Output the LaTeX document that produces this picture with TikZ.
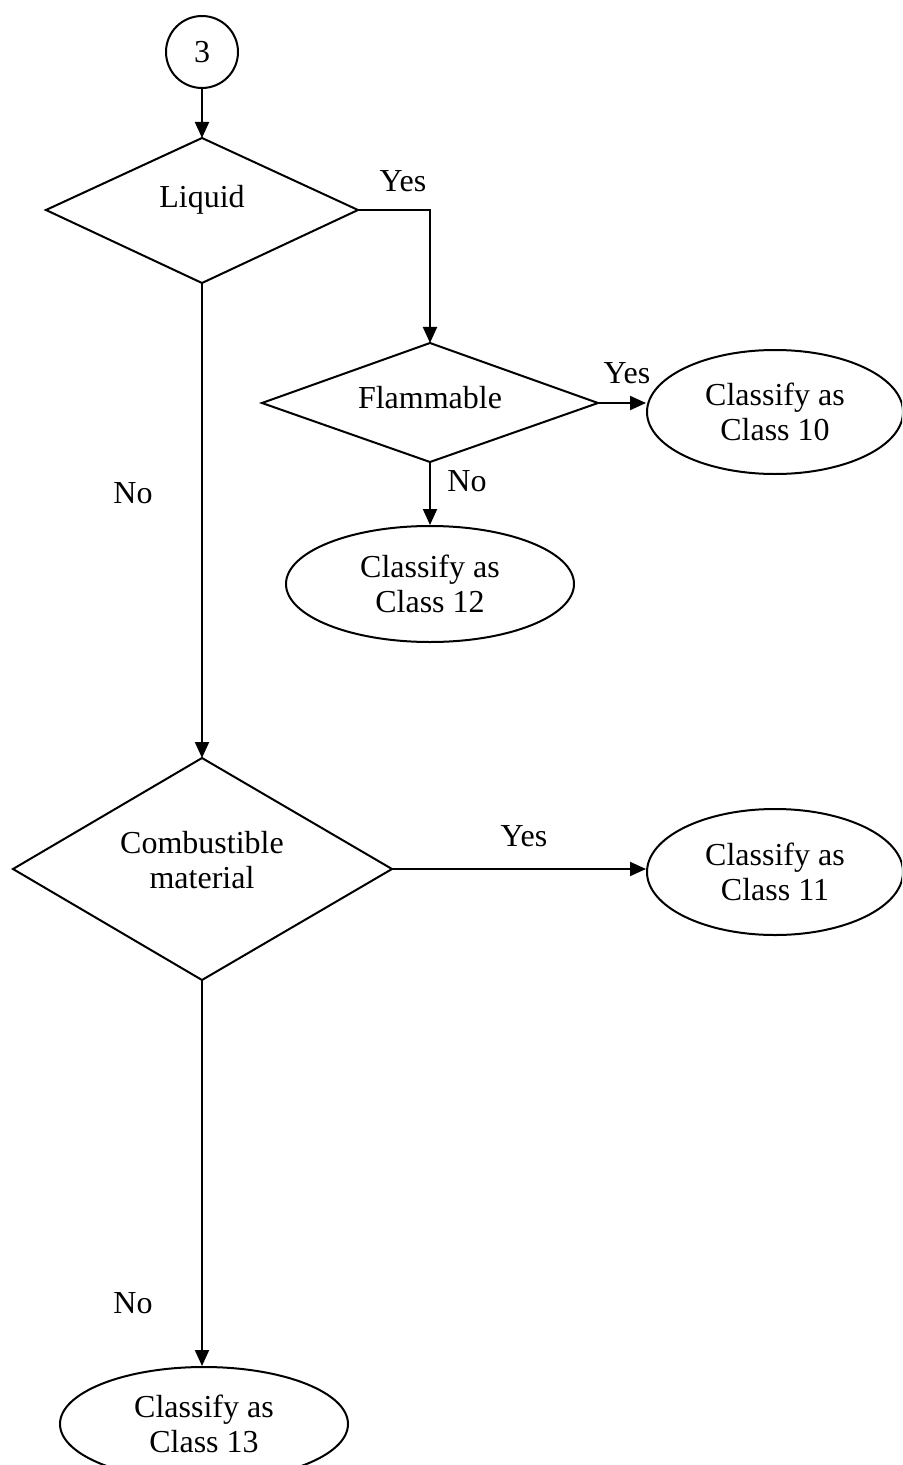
\documentclass[tikz,border=0pt]{standalone}
\usepackage{fontspec}
\setmainfont{Liberation Serif}
\usetikzlibrary{shapes.geometric,arrows.meta}
\begin{document}
\begin{tikzpicture}[x=0.5pt,y=-0.5pt,
  line width=1pt,
  every node/.style={font=\fontsize{16pt}{17.5pt}\selectfont},
  txt/.style={inner sep=0pt,align=center},
  oval/.style={draw,ellipse,inner sep=0pt,align=center},
  arr/.style={-{Triangle[length=8pt,width=7pt]}}]
\useasboundingbox (0,0) rectangle (902,1465);
\clip (0,0) rectangle (902,1465);
% start circle
\node[draw,circle,minimum size=36pt,inner sep=0pt] (start) at (202,52) {3};
% Liquid diamond
\coordinate (lt) at (202,138); \coordinate (lr) at (358,210);
\coordinate (lb) at (202,283); \coordinate (ll) at (46,210);
\draw (lt) -- (lr) -- (lb) -- (ll) -- cycle;
\node[txt] (liquid) at (202,200) {Liquid};
% Flammable diamond
\coordinate (ft) at (430,343); \coordinate (fr) at (598,403);
\coordinate (fb) at (430,462); \coordinate (fl) at (262,403);
\draw (ft) -- (fr) -- (fb) -- (fl) -- cycle;
\node[txt] (flam) at (430,398) {Flammable};
% Combustible diamond
\coordinate (ct) at (202,758); \coordinate (cr) at (392,869);
\coordinate (cb) at (202,980); \coordinate (cl) at (13,869);
\draw (ct) -- (cr) -- (cb) -- (cl) -- cycle;
\node[txt] (comb) at (202,860) {Combustible\\material};
% Ellipses
\node[oval,minimum width=128pt,minimum height=62pt] (c10) at (775,412) {Classify as\\Class 10};
\node[oval,minimum width=144pt,minimum height=58pt] (c12) at (430,584) {Classify as\\Class 12};
\node[oval,minimum width=128pt,minimum height=63pt] (c11) at (775,872) {Classify as\\Class 11};
\node[oval,minimum width=144pt,minimum height=57pt] (c13) at (204,1424) {Classify as\\Class 13};
% connectors
\draw[arr] (start) -- (lt);
\coordinate (yb) at (430,210);
\draw[arr] (lr) -- (yb) -- (ft);
\draw[arr] (fr) -- (fr -| c10.west);
\draw[arr] (fb) -- (c12.north);
\draw[arr] (lb) -- (ct);
\draw[arr] (cr) -- (cr -| c11.west);
\draw[arr] (cb) -- (cb |- c13.north);
% labels
\node[txt] (y1) at (403,181) {Yes};
\node[txt] (y2) at (627,373) {Yes};
\node[txt] (y3) at (524,836) {Yes};
\node[txt] (n1) at (467,481) {No};
\node[txt] (n2) at (133,493) {No};
\node[txt] (n3) at (133,1303) {No};
\end{tikzpicture}
\end{document}
